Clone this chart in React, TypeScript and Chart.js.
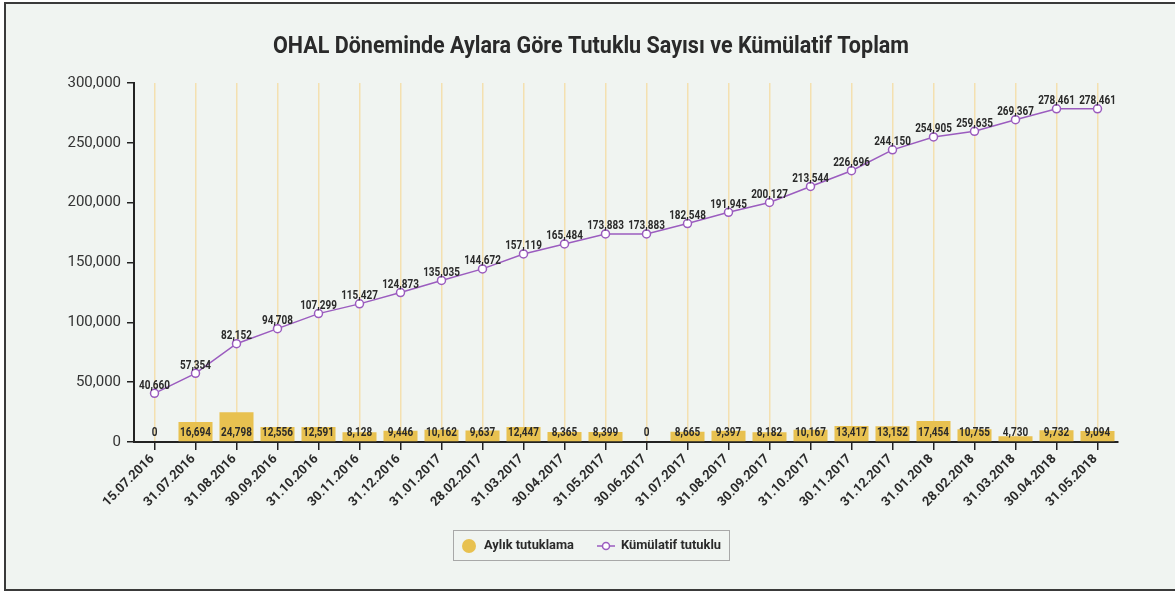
import React, { useEffect, useRef } from "react";
import { Chart, registerables } from "chart.js";

Chart.register(...registerables);

const dates = [
  "15.07.2016", "31.07.2016", "31.08.2016", "30.09.2016", "31.10.2016", "30.11.2016",
  "31.12.2016", "31.01.2017", "28.02.2017", "31.03.2017", "30.04.2017", "31.05.2017",
  "30.06.2017", "31.07.2017", "31.08.2017", "30.09.2017", "31.10.2017", "30.11.2017",
  "31.12.2017", "31.01.2018", "28.02.2018", "31.03.2018", "30.04.2018", "31.05.2018",
];

const monthly = [
  0, 16694, 24798, 12556, 12591, 8128, 9446, 10162, 9637, 12447, 8365, 8399,
  0, 8665, 9397, 8182, 10167, 13417, 13152, 17454, 10755, 4730, 9732, 9094,
];

const cumulative = [
  40660, 57354, 82152, 94708, 107299, 115427, 124873, 135035, 144672, 157119, 165484, 173883,
  173883, 182548, 191945, 200127, 213544, 226696, 244150, 254905, 259635, 269367, 278461, 278461,
];

const titleText = "OHAL Döneminde Aylara Göre Tutuklu Sayısı ve Kümülatif Toplam";
const barLabel = "Aylık tutuklama";
const lineLabel = "Kümülatif tutuklu";

const GOLD = "#e8c150";
const PURPLE = "#9b5cbf";
const TEXT = "#2a2a2a";
const FONT = "Roboto, 'Noto Sans', sans-serif";
const fmt = (v: number) => v.toLocaleString("en-US");

function condText(ctx: any, text: string, x: number, y: number, sx: number, align: string, rot = 0) {
  ctx.save();
  ctx.translate(x, y);
  if (rot) ctx.rotate(rot);
  ctx.scale(sx, 1);
  ctx.textAlign = align;
  ctx.fillText(text, 0, 0);
  ctx.restore();
}

function fitScale(ctx: any, text: string, target: number) {
  return target / ctx.measureText(text).width;
}

const decorPlugin = {
  id: "decor",
  afterDatasetsDraw(chart: any) {
    const ctx = chart.ctx;
    const xs = chart.scales.x;
    const ys = chart.scales.y;
    ctx.save();
    ctx.fillStyle = TEXT;
    ctx.textBaseline = "middle";
    ctx.font = `bold 13px ${FONT}`;
    const sLab = fitScale(ctx, "40,660", 31);
    const y0 = ys.getPixelForValue(0);
    monthly.forEach((v, i) => {
      condText(ctx, fmt(v), xs.getPixelForValue(i), y0 - 9, sLab, "center");
    });
    cumulative.forEach((v, i) => {
      condText(ctx, fmt(v), xs.getPixelForValue(i), ys.getPixelForValue(v) - 8, sLab, "center");
    });
    // x tick labels
    ctx.font = `bold 13px ${FONT}`;
    const sX = fitScale(ctx, "15.07.2016", 67);
    dates.forEach((d, i) => {
      condText(ctx, d, xs.getPixelForValue(i) - 2, y0 + 15, sX, "right", -Math.PI / 4);
    });
    ctx.restore();
  },
  afterDraw(chart: any) {
    const ctx = chart.ctx;
    ctx.save();
    ctx.fillStyle = TEXT;
    ctx.textBaseline = "middle";
    // title
    ctx.font = `bold 23px ${FONT}`;
    condText(ctx, titleText, 591, 47, fitScale(ctx, titleText, 636), "center");
    // legend
    ctx.strokeStyle = "#a8a8a8";
    ctx.lineWidth = 1;
    ctx.strokeRect(453.5, 530.5, 276, 30);
    ctx.fillStyle = GOLD;
    ctx.beginPath();
    ctx.arc(469, 546, 7, 0, Math.PI * 2);
    ctx.fill();
    ctx.font = `bold 13px ${FONT}`;
    ctx.fillStyle = TEXT;
    condText(ctx, barLabel, 484, 546, fitScale(ctx, barLabel, 90), "left");
    ctx.strokeStyle = PURPLE;
    ctx.lineWidth = 1.5;
    ctx.beginPath();
    ctx.moveTo(597, 546);
    ctx.lineTo(615, 546);
    ctx.stroke();
    ctx.fillStyle = "#ffffff";
    ctx.beginPath();
    ctx.arc(606, 546, 3.5, 0, Math.PI * 2);
    ctx.fill();
    ctx.stroke();
    ctx.fillStyle = TEXT;
    condText(ctx, lineLabel, 621, 546, fitScale(ctx, lineLabel, 100), "left");
    ctx.restore();
  },
};

export default function App() {
  const ref = useRef<HTMLCanvasElement | null>(null);
  useEffect(() => {
    if (!ref.current) return;
    const chart = new Chart(ref.current, {
      type: "bar",
      data: {
        labels: dates,
        datasets: [
          {
            type: "line",
            label: lineLabel,
            data: cumulative,
            borderColor: PURPLE,
            borderWidth: 1.5,
            pointRadius: 4,
            pointBackgroundColor: "#ffffff",
            pointBorderColor: PURPLE,
            pointBorderWidth: 1.5,
            tension: 0,
            order: 0,
          } as any,
          {
            type: "bar",
            label: barLabel,
            data: monthly,
            backgroundColor: GOLD,
            categoryPercentage: 1,
            barPercentage: 0.83,
            order: 1,
          },
        ],
      },
      options: {
        animation: false,
        responsive: false,
        layout: { padding: { top: 83, right: 57, bottom: 0, left: 0 } },
        plugins: { legend: { display: false }, title: { display: false }, tooltip: { enabled: false } },
        scales: {
          x: {
            offset: true,
            grid: { offset: false, color: "#f4e0b0", lineWidth: 1.5, tickColor: "#222", tickLength: 8, drawOnChartArea: true },
            border: { display: true, color: "#222", width: 2 },
            ticks: {
              autoSkip: false,
              maxRotation: 45,
              minRotation: 45,
              color: "rgba(0,0,0,0)",
              font: { family: FONT, weight: "bold", size: 12 },
              padding: 2,
            },
            afterFit: (s: any) => { s.height = 151; },
          },
          y: {
            min: 0,
            max: 300000,
            ticks: {
              stepSize: 50000,
              color: "#333",
              font: { family: FONT, size: 15 },
              callback: (v: any) => fmt(Number(v)),
              padding: 6,
            },
            grid: { drawOnChartArea: false, tickColor: "#222", tickLength: 7, lineWidth: 1.5 },
            border: { display: true, color: "#222", width: 2 },
            afterFit: (s: any) => { s.width = 134; },
          },
        },
      },
      plugins: [decorPlugin],
    });
    return () => chart.destroy();
  }, []);
  return (
    <div style={{ position: "fixed", left: 0, top: 0, width: 1175, height: 593, background: "#ffffff", overflow: "hidden" }}>
      <div style={{ position: "absolute", left: 4, top: 2, width: 1200, height: 589, boxSizing: "border-box", border: "2px solid #3a3a3a", background: "#f0f4f1" }} />
      <canvas ref={ref} width={1175} height={593} style={{ position: "absolute", left: 0, top: 0, width: 1175, height: 593 }} />
    </div>
  );
}
